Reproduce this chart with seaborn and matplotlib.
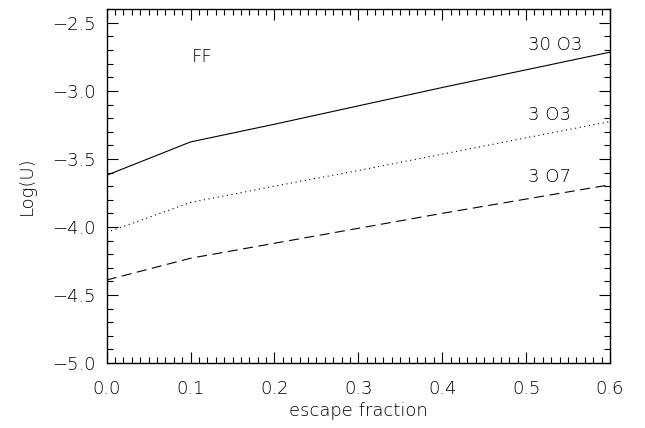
import pandas as pd
import seaborn as sns
import matplotlib.pyplot as plt
import matplotlib.ticker as mticker

# escape fraction grid
esc_frac = [0.0, 0.1, 0.2, 0.3, 0.4, 0.5, 0.6]

# Log(U) for each model
logu_30_o3 = [-3.62, -3.375, -3.245, -3.11, -2.975, -2.845, -2.715]
logu_3_o3 = [-4.04, -3.82, -3.70, -3.585, -3.465, -3.345, -3.225]
logu_3_o7 = [-4.39, -4.23, -4.12, -4.01, -3.90, -3.795, -3.69]

series_names = ["30 O3", "3 O3", "3 O7"]
label_xy = [(0.502, -2.665), (0.502, -3.175), (0.502, -3.635)]
panel_label = "FF"

sns.set_style("ticks")
plt.rcParams["font.family"] = ["DejaVu Sans"]
plt.rcParams["text.color"] = "black"
plt.rcParams["axes.labelcolor"] = "black"
plt.rcParams["xtick.color"] = "black"
plt.rcParams["ytick.color"] = "black"

df = pd.DataFrame({
    "esc": esc_frac * 3,
    "logu": logu_30_o3 + logu_3_o3 + logu_3_o7,
    "model": [n for n in series_names for _ in esc_frac],
})

fig = plt.figure(figsize=(6.45, 4.28), dpi=100)
ax = fig.add_axes([0.1654, 0.1519, 0.9457 - 0.1654, 0.9783 - 0.1519])

styles = {"30 O3": "-", "3 O3": (0, (1, 3.2)), "3 O7": (0, (9, 5))}
for name in series_names:
    sns.lineplot(
        data=df.loc[df["model"] == name], x="esc", y="logu",
        color="black", linewidth=0.8, linestyle=styles[name], ax=ax,
    )

fs = 13
for name, (tx, ty) in zip(series_names, label_xy):
    ax.text(tx, ty, name, fontsize=fs, fontweight="light", va="center", ha="left")
ax.text(0.102, -2.75, panel_label, fontsize=fs, fontweight="light", va="center", ha="left")

ax.set_xlim(0.0, 0.6)
ax.set_ylim(-5.0, -2.4)
ax.xaxis.set_major_locator(mticker.MultipleLocator(0.1))
ax.xaxis.set_minor_locator(mticker.MultipleLocator(0.01))
ax.yaxis.set_major_locator(mticker.MultipleLocator(0.5))
ax.yaxis.set_minor_locator(mticker.MultipleLocator(0.1))
ax.xaxis.set_major_formatter(mticker.FormatStrFormatter("%.1f"))
ax.yaxis.set_major_formatter(mticker.FuncFormatter(lambda v, p: f"{v:.1f}".replace("-", "\u2212")))

ax.tick_params(which="both", direction="in", top=True, right=True, color="black", width=0.8)
ax.tick_params(which="major", length=8)
ax.tick_params(which="minor", length=4)
ax.tick_params(axis="x", which="major", pad=12, labelsize=fs)
ax.tick_params(axis="y", which="major", pad=8, labelsize=fs)
for lab in ax.get_xticklabels() + ax.get_yticklabels():
    lab.set_fontweight("light")

for s in ax.spines.values():
    s.set_visible(True)
    s.set_linewidth(1.0)
    s.set_color("black")

ax.set_xlabel("escape fraction", fontsize=fs, fontweight="light", labelpad=3)
ax.set_ylabel("Log(U)", fontsize=fs, fontweight="light", labelpad=12)

fig.savefig("out.png", dpi=100)
